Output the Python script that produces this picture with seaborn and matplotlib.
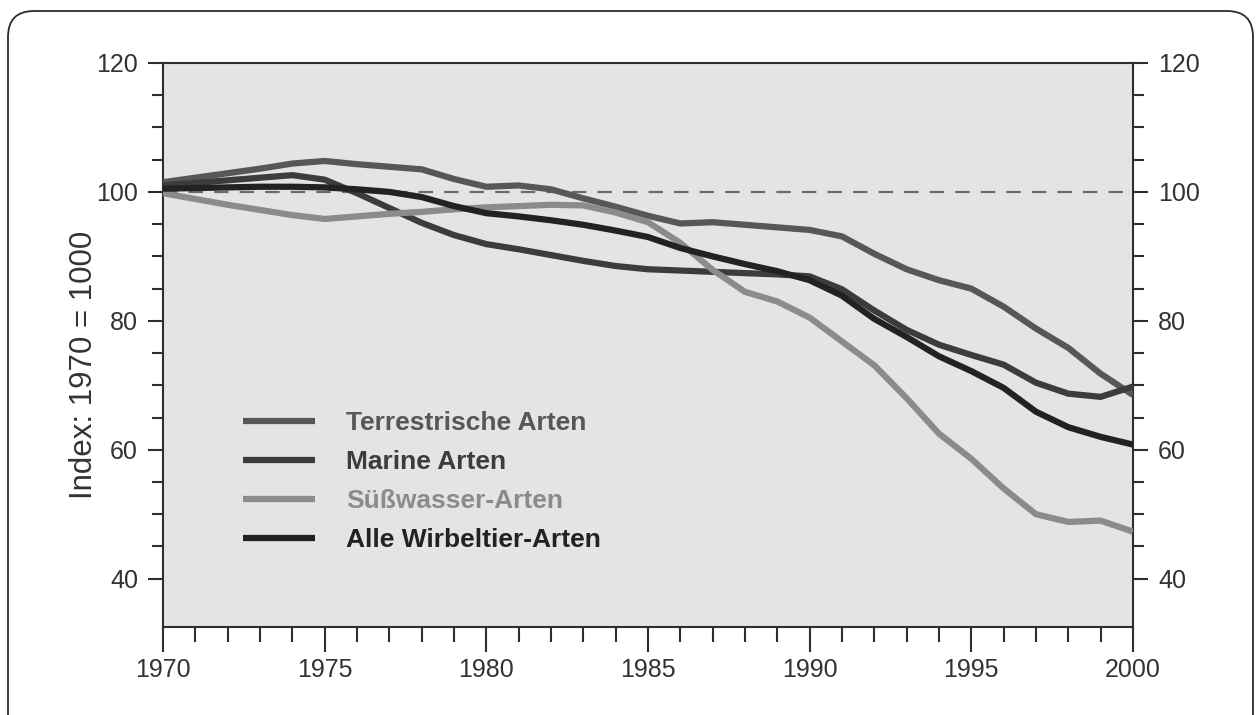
import pandas as pd
import seaborn as sns
import matplotlib.pyplot as plt
from matplotlib.patches import FancyBboxPatch
from matplotlib.ticker import MultipleLocator, FixedLocator

years = list(range(1970, 2001))

terrestrisch = [101.5, 102.2, 102.9, 103.6, 104.4, 104.8, 104.3, 103.9, 103.5, 102.0,
                100.8, 101.0, 100.4, 99.0, 97.7, 96.3, 95.1, 95.3, 94.9, 94.5,
                94.1, 93.1, 90.4, 88.0, 86.3, 85.0, 82.2, 78.8, 75.8, 71.8, 68.5]
marine = [101.0, 101.4, 101.8, 102.2, 102.6, 101.9, 99.8, 97.5, 95.2, 93.3,
          91.9, 91.1, 90.2, 89.3, 88.5, 88.0, 87.8, 87.6, 87.4, 87.2,
          86.9, 84.9, 81.6, 78.6, 76.3, 74.7, 73.2, 70.4, 68.7, 68.2, 69.8]
suesswasser = [99.8, 98.9, 98.0, 97.2, 96.4, 95.8, 96.2, 96.6, 96.9, 97.3,
               97.6, 97.8, 98.0, 97.9, 96.8, 95.3, 92.1, 87.9, 84.5, 83.0,
               80.5, 76.8, 73.1, 68.0, 62.5, 58.6, 54.0, 50.0, 48.8, 49.0, 47.3]
alle = [100.5, 100.6, 100.7, 100.8, 100.8, 100.7, 100.4, 100.0, 99.2, 97.8,
        96.7, 96.2, 95.6, 94.9, 94.0, 93.0, 91.3, 90.0, 88.8, 87.7,
        86.3, 83.9, 80.3, 77.5, 74.5, 72.2, 69.6, 65.9, 63.5, 62.0, 60.8]

names = ['Terrestrische Arten', 'Marine Arten', 'Süßwasser-Arten', 'Alle Wirbeltier-Arten']
series = [terrestrisch, marine, suesswasser, alle]
colors = ['#575757', '#3c3c3c', '#8b8b8b', '#222222']

sns.set_style("ticks")
plt.rcParams['font.family'] = ['Liberation Sans', 'DejaVu Sans']

fig = plt.figure(figsize=(12.56, 7.15), dpi=100)

# rounded outer frame
bg = fig.add_axes([0, 0, 1, 1], zorder=-10)
bg.set_xlim(0, 1256)
bg.set_ylim(715, 0)
bg.axis('off')
bg.add_patch(FancyBboxPatch((8, 11), 1245, 760, boxstyle="round,pad=0,rounding_size=26",
                            fc='white', ec='#2b2b2b', lw=1.3))

ax = fig.add_axes([0.1298, 0.1231, 0.7722, 0.7888])
ax.set_facecolor('#e3e4e6')

ax.axhline(100, color='#6b6b6b', lw=1.6, dashes=(6.5, 5), zorder=1)

for name, vals, c in zip(names, series, colors):
    df = pd.DataFrame({'Jahr': years, 'Index': vals})
    sns.lineplot(data=df, x='Jahr', y='Index', ax=ax, color=c, lw=4.5, label=name,
                 zorder=3, solid_joinstyle='round', solid_capstyle='butt')

ax.set_xlim(1970, 2000)
ax.set_ylim(32.5, 120)
ax.xaxis.set_major_locator(MultipleLocator(5))
ax.xaxis.set_minor_locator(MultipleLocator(1))
ax.set_yticks([40, 60, 80, 100, 120])
ax.yaxis.set_minor_locator(FixedLocator([v for v in range(45, 120, 5) if v % 20 != 0]))

ax.tick_params(axis='x', which='major', length=18, width=1.5, color='#2e2e2e',
               labelsize=18, labelcolor='#333333', pad=4, top=False)
ax.tick_params(axis='x', which='minor', length=10.5, width=1.5, color='#2e2e2e', top=False)
ax.tick_params(axis='y', which='major', length=11, width=1.5, color='#2e2e2e',
               labelsize=18, labelcolor='#333333', pad=7, right=True, labelright=True)
ax.tick_params(axis='y', which='minor', length=8, width=1.5, color='#2e2e2e', right=True)

for s in ax.spines.values():
    s.set_visible(True)
    s.set_color('#2e2e2e')
    s.set_linewidth(1.5)

ax.set_xlabel('')
ax.set_ylabel('Index: 1970 = 1000', fontsize=22.5, color='#333333')
ax.yaxis.set_label_coords(-0.066, 0.464)

ax.legend(loc='upper left', bbox_to_anchor=(0.0825, 0.383), frameon=False,
          prop={'family': 'Liberation Sans', 'weight': 'bold', 'size': 19},
          labelcolor='linecolor', handlelength=2.73, handletextpad=1.17,
          labelspacing=0.57, borderpad=0, borderaxespad=0)

fig.savefig('out.png', dpi=100)
